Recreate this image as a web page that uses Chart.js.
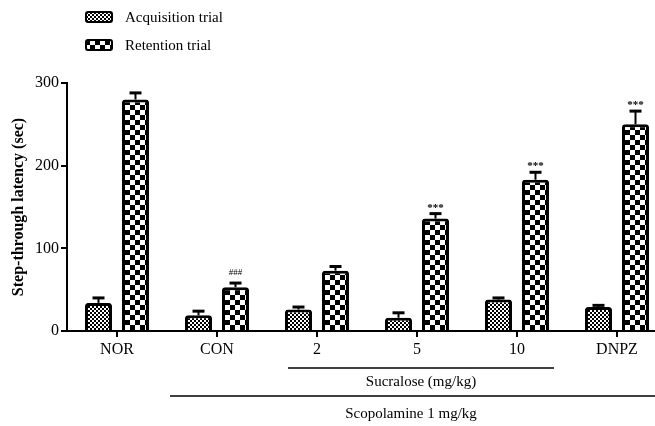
<!DOCTYPE html>
<html>
<head>
<meta charset="utf-8">
<script src="https://cdn.jsdelivr.net/npm/chart.js@4.4.1/dist/chart.umd.min.js"></script>
<style>
  html, body { margin: 0; padding: 0; background: #fff; overflow: hidden; }
  #wrap { width: 667px; height: 426px; }
</style>
</head>
<body>
<div id="wrap"><canvas id="myChart" width="667" height="426"></canvas></div>
<script>
// values
const groups = ['NOR', 'CON', '2', '5', '10', 'DNPZ'];
const acquisition = [34, 19, 26, 16, 38, 29];
const acquisitionErr = [6, 5, 3, 6, 2, 2];
const retention = [280, 53, 73, 136, 183, 250];
const retentionErr = [8, 5, 5, 6, 9, 16];
const marks = ['', '###', '', '***', '***', '***']; // above retention bars
const yTicks = [0, 100, 200, 300];

const serif = '"Liberation Serif", "Times New Roman", serif';

// checker fills
function checker(size) {
  const c = document.createElement('canvas');
  c.width = size * 2; c.height = size * 2;
  const g = c.getContext('2d');
  g.fillStyle = '#000';
  g.fillRect(0, 0, c.width, c.height);
  g.fillStyle = '#fff';
  g.fillRect(0, 0, size, size);
  g.fillRect(size, size, size, size);
  return g.createPattern(c, 'repeat');
}
const fineFill = checker(2);
const coarseFill = checker(5);

// error bars (up only) + significance marks
const errorBars = {
  id: 'errorBars',
  afterDatasetsDraw(chart) {
    const ctx = chart.ctx;
    const y = chart.scales.y;
    const errs = [acquisitionErr, retentionErr];
    const vals = [acquisition, retention];
    ctx.save();
    ctx.strokeStyle = '#000';
    chart.data.datasets.forEach((ds, i) => {
      chart.getDatasetMeta(i).data.forEach((bar, j) => {
        const top = y.getPixelForValue(vals[i][j] + errs[i][j]);
        ctx.lineWidth = 2;
        ctx.beginPath();
        ctx.moveTo(bar.x, bar.y);
        ctx.lineTo(bar.x, top);
        ctx.stroke();
        ctx.lineWidth = 3;
        ctx.beginPath();
        ctx.moveTo(bar.x - 6, top);
        ctx.lineTo(bar.x + 6, top);
        ctx.stroke();
        if (i === 1 && marks[j]) {
          ctx.fillStyle = '#000';
          ctx.textAlign = 'center';
          ctx.textBaseline = 'alphabetic';
          if (marks[j] === '***') {
            ctx.font = 'bold 11px ' + serif;
            ctx.fillText(marks[j], bar.x, top - 3);
          } else {
            ctx.font = '9px ' + serif;
            ctx.fillText(marks[j], bar.x, top - 8);
          }
        }
      });
    });
    ctx.restore();
  }
};

// legend at top left and the group lines under the axis
const extras = {
  id: 'extras',
  afterDraw(chart) {
    const ctx = chart.ctx;
    const x = chart.scales.x;
    ctx.save();
    // legend
    const items = [['Acquisition trial', fineFill, 12], ['Retention trial', coarseFill, 40]];
    items.forEach(([label, fill, top]) => {
      ctx.fillStyle = fill;
      ctx.strokeStyle = '#000';
      ctx.lineWidth = 2;
      ctx.beginPath();
      ctx.roundRect(86, top, 26, 10, 2);
      ctx.fill();
      ctx.stroke();
      ctx.fillStyle = '#000';
      ctx.font = '15px ' + serif;
      ctx.textAlign = 'left';
      ctx.textBaseline = 'middle';
      ctx.fillText(label, 125, top + 6);
    });
    // group lines
    ctx.lineWidth = 1.5;
    const sx0 = x.getPixelForValue(2) - 29, sx1 = x.getPixelForValue(4) + 37;
    ctx.beginPath();
    ctx.moveTo(sx0, 368); ctx.lineTo(sx1, 368);
    ctx.stroke();
    const px0 = x.getPixelForValue(1) - 47;
    ctx.beginPath();
    ctx.moveTo(px0, 396); ctx.lineTo(chart.width, 396);
    ctx.stroke();
    ctx.textAlign = 'center';
    ctx.font = '15px ' + serif;
    ctx.fillText('Sucralose (mg/kg)', (sx0 + sx1) / 2, 382);
    ctx.fillText('Scopolamine 1 mg/kg', 411, 414);
    ctx.restore();
  }
};

new Chart(document.getElementById('myChart'), {
  type: 'bar',
  data: {
    labels: groups,
    datasets: [
      { label: 'Acquisition trial', data: acquisition, backgroundColor: fineFill },
      { label: 'Retention trial', data: retention, backgroundColor: coarseFill }
    ]
  },
  options: {
    responsive: false,
    animation: false,
    layout: { padding: { top: 83, left: 0, right: 0, bottom: 0 } },
    datasets: {
      bar: {
        borderColor: '#000',
        borderWidth: 3,
        borderRadius: 3,
        borderSkipped: 'start',
        categoryPercentage: 0.74,
        barPercentage: 0.73
      }
    },
    plugins: {
      legend: { display: false },
      tooltip: { enabled: false }
    },
    scales: {
      x: {
        grid: { display: true, offset: false, drawOnChartArea: false, drawTicks: true, tickLength: 6, color: '#000', lineWidth: 2 },
        border: { display: true, color: '#000', width: 2 },
        ticks: { color: '#000', font: { family: serif, size: 16 }, padding: 3, maxRotation: 0 },
        afterFit(scale) { scale.height = 95; }
      },
      y: {
        min: 0,
        max: 300,
        afterBuildTicks(scale) { scale.ticks = yTicks.map(v => ({ value: v })); },
        grid: { display: true, drawOnChartArea: false, drawTicks: true, tickLength: 6, color: '#000', lineWidth: 2 },
        border: { display: true, color: '#000', width: 2 },
        ticks: { color: '#000', font: { family: serif, size: 16 }, padding: 2 },
        title: {
          display: true,
          text: 'Step-through latency (sec)',
          color: '#000',
          font: { family: serif, size: 16, weight: 'bold' },
          padding: { top: 9, bottom: 0 }
        },
        afterFit(scale) { scale.width = 67; }
      }
    }
  },
  plugins: [errorBars, extras]
});
</script>
</body>
</html>
